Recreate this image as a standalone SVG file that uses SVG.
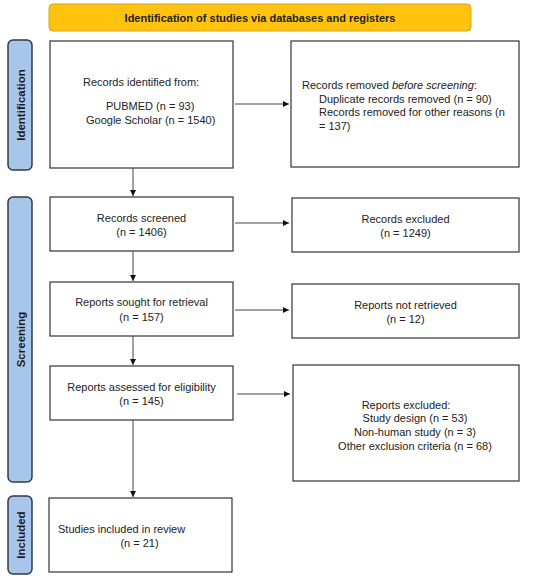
<svg xmlns="http://www.w3.org/2000/svg" width="550" height="579" viewBox="0 0 550 579">
<defs>
<style>
.box{fill:#fff;stroke:#333;stroke-width:1.2}
.side{fill:#A8C6EA;stroke:#2E3A4A;stroke-width:1.5}
.t{font-family:"Liberation Sans",Arial,sans-serif;font-size:11px;fill:#222}
.c{text-anchor:middle}
.b{font-weight:bold}
.st{font-family:"Liberation Sans",Arial,sans-serif;font-size:11.5px;font-weight:bold;fill:#1a1a1a;text-anchor:middle}
.ln{stroke:#444;stroke-width:1;fill:none}
</style>
<marker id="ah" viewBox="0 0 10 10" refX="10" refY="5" markerWidth="6" markerHeight="6" orient="auto" markerUnits="userSpaceOnUse">
<path d="M0,0 L10,5 L0,10 z" fill="#111"/>
</marker>
</defs>
<rect width="550" height="579" fill="#fff"/>

<g id="banner">
<rect x="49" y="4" width="422" height="27" rx="4" fill="#FFC20E" stroke="#D8A31C" stroke-width="1"/>
<text class="t c b" x="260" y="21.5">Identification of studies via databases and registers</text>
</g>

<g id="label-identification">
<rect class="side" x="8" y="40" width="24" height="130" rx="5"/>
<text class="st" transform="translate(24.5,105) rotate(-90)">Identification</text>
</g>
<g id="label-screening">
<rect class="side" x="8" y="197" width="24" height="285" rx="5"/>
<text class="st" transform="translate(24.5,339.5) rotate(-90)">Screening</text>
</g>
<g id="label-included">
<rect class="side" x="8" y="496" width="24" height="78" rx="5"/>
<text class="st" transform="translate(24.5,535) rotate(-90)">Included</text>
</g>

<g id="records-identified">
<rect class="box" x="50" y="41" width="183" height="127"/>
<text class="t" x="83" y="86">Records identified from:</text>
<text class="t" x="106" y="110">PUBMED (n = 93)</text>
<text class="t" x="86" y="123.5">Google Scholar (n = 1540)</text>
</g>

<g id="records-removed">
<rect class="box" x="291" y="41" width="228" height="126"/>
<text class="t" x="302" y="89">Records removed <tspan font-style="italic">before screening</tspan>:</text>
<text class="t" x="319" y="102.5">Duplicate records removed (n = 90)</text>
<text class="t" x="319" y="116">Records removed for other reasons (n</text>
<text class="t" x="319" y="130">= 137)</text>
</g>

<g id="records-screened">
<rect class="box" x="50" y="197" width="183" height="54"/>
<text class="t c" x="141.5" y="222">Records screened</text>
<text class="t c" x="141.5" y="236">(n = 1406)</text>
</g>

<g id="records-excluded">
<rect class="box" x="292" y="198" width="227" height="54"/>
<text class="t c" x="405.5" y="223">Records excluded</text>
<text class="t c" x="405.5" y="237">(n = 1249)</text>
</g>

<g id="reports-sought">
<rect class="box" x="50" y="282" width="183" height="54"/>
<text class="t c" x="141.5" y="306">Reports sought for retrieval</text>
<text class="t c" x="141.5" y="321">(n = 157)</text>
</g>

<g id="reports-not-retrieved">
<rect class="box" x="292" y="284" width="227" height="54"/>
<text class="t c" x="405.5" y="309">Reports not retrieved</text>
<text class="t c" x="405.5" y="323">(n = 12)</text>
</g>

<g id="reports-assessed">
<rect class="box" x="50" y="366" width="183" height="54"/>
<text class="t c" x="141.5" y="391">Reports assessed for eligibility</text>
<text class="t c" x="141.5" y="405">(n = 145)</text>
</g>

<g id="reports-excluded">
<rect class="box" x="293" y="365" width="226" height="116"/>
<text class="t c" x="406" y="409">Reports excluded:</text>
<text class="t c" x="415" y="422">Study design (n = 53)</text>
<text class="t c" x="415" y="436">Non-human study (n = 3)</text>
<text class="t c" x="415" y="450">Other exclusion criteria (n = 68)</text>
</g>

<g id="studies-included">
<rect class="box" x="49" y="498" width="183" height="74"/>
<text class="t" x="58" y="533">Studies included in review</text>
<text class="t c" x="139.5" y="547">(n = 21)</text>
</g>

<g id="connectors">
<line class="ln" x1="235" y1="104" x2="289" y2="104" marker-end="url(#ah)"/>
<line class="ln" x1="133" y1="168" x2="133" y2="196" marker-end="url(#ah)"/>
<line class="ln" x1="235" y1="223" x2="289" y2="223" marker-end="url(#ah)"/>
<line class="ln" x1="133" y1="251" x2="133" y2="281" marker-end="url(#ah)"/>
<line class="ln" x1="235" y1="310" x2="289" y2="310" marker-end="url(#ah)"/>
<line class="ln" x1="133" y1="336" x2="133" y2="365" marker-end="url(#ah)"/>
<line class="ln" x1="237" y1="394" x2="290" y2="394" marker-end="url(#ah)"/>
<line class="ln" x1="133" y1="420" x2="133" y2="497" marker-end="url(#ah)"/>
</g>
</svg>
